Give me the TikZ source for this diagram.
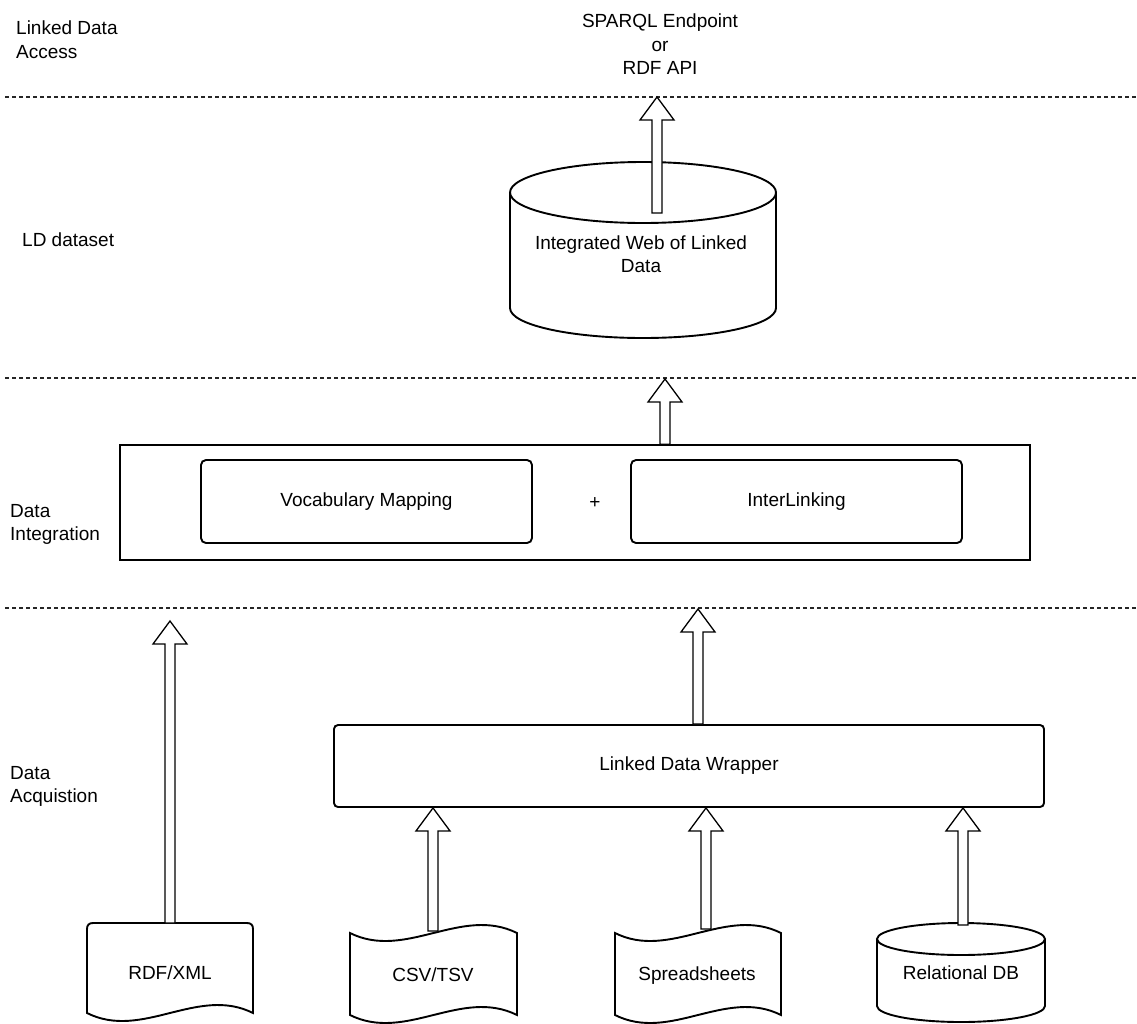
\documentclass[tikz,border=0pt]{standalone}
\usepackage{fontspec}
\setmainfont{Liberation Sans}
\usetikzlibrary{calc}

\tikzset{
  layerline/.style={line width=1.1pt, black!85, dash pattern=on 4pt off 3pt},
  layerlabel/.style={anchor=north west, inner sep=0pt, align=left},
  shapeline/.style={line width=1.9pt, draw=black, fill=white},
  softbox/.style={draw=black, line width=1.9pt, rounded corners=5pt, fill=white},
  groupbox/.style={draw=black, line width=1.3pt, fill=white},
  blockarrow/.style={draw=black, line width=1.3pt, fill=white, line join=miter},
  plain/.style={inner sep=0pt, align=center}
}

% hollow upward block arrow from the first point to the tip at the second
\newcommand\liftarrow[2]{%
  \draw[blockarrow] let \p1=(#1), \p2=(#2) in
    (\x1-5pt,\y1) -- (\x1-5pt,\y2-23pt) -- (\x1-17pt,\y2-23pt) -- (\x1,\y2)
    -- (\x1+17pt,\y2-23pt) -- (\x1+5pt,\y2-23pt) -- (\x1+5pt,\y1) -- cycle;}

\begin{document}
\begin{tikzpicture}[x=1pt, y=-1pt, font=\fontsize{19}{23.5}\selectfont]
\useasboundingbox (0,0) rectangle (1137,1023);
\clip (0,0) rectangle (1137,1023);
\fill[white] (0,0) rectangle (1137,1023);

% layer separators
\coordinate (sepA) at (5,97);
\coordinate (sepB) at (5,378);
\coordinate (sepC) at (5,608);
\draw[layerline] (sepA) -- (1137,97);
\draw[layerline] (sepB) -- (1137,378);
\draw[layerline] (sepC) -- (1137,608);

% layer names
\node[layerlabel] (lAccess) at (16,21) {Linked Data\\Access};
\node[layerlabel] (lDataset) at (22,233) {LD dataset};
\node[layerlabel] (lIntegr) at (10,504) {Data\\Integration};
\node[layerlabel] (lAcq) at (10,766) {Data\\Acquistion};

% access point
\node[plain, anchor=north] (access) at (660,14) {SPARQL Endpoint\\or\\RDF API};

% integrated dataset (cylinder)
\draw[shapeline] (510,192.5) -- (510,308) .. controls (510,324.6) and (569.5,338) .. (643,338)
  .. controls (716.5,338) and (776,324.6) .. (776,308) -- (776,192.5);
\draw[shapeline] (643,192.5) ellipse [x radius=133, y radius=30.5];
\node[plain] (ldset) at (641,254) {Integrated Web of Linked\\Data};
\coordinate (ldsetOut) at (657,213);
\liftarrow{ldsetOut}{ldsetOut |- sepA}

% integration layer
\node[groupbox, minimum width=910, minimum height=115] (integ) at (575,502.5) {};
\node[softbox, minimum width=331, minimum height=83] (vocab) at (366.5,501.5) {Vocabulary Mapping};
\node[softbox, minimum width=331, minimum height=83] (inter) at (796.5,501.5) {InterLinking};
\node[plain] (plus) at (595,503) {+};
\coordinate (integTip) at (665,379);
\liftarrow{integTip |- integ.north}{integTip}

% wrapper
\node[softbox, rounded corners=4pt, minimum width=710, minimum height=82] (wrap) at (689,766) {Linked Data Wrapper};
\coordinate (wrapTip) at (698,609);
\liftarrow{wrapTip |- wrap.north}{wrapTip}

% RDF/XML document
\draw[shapeline] (87,1013) -- (87,929) .. controls (87,925) and (89,923) .. (93,923) -- (247,923)
  .. controls (251,923) and (253,925) .. (253,929) -- (253,1013)
  .. controls (197.7,985.3) and (142.3,1040.7) .. (87,1013) -- cycle;
\node[plain] (rdf) at (170,973) {RDF/XML};
\coordinate (rdfOut) at (170,923);
\coordinate (rdfTip) at (170,621);
\liftarrow{rdfOut}{rdfTip}

% CSV/TSV tape
\draw[shapeline] (350,933) .. controls (405.7,960.7) and (461.3,905.3) .. (517,933) -- (517,1015)
  .. controls (461.3,987.3) and (405.7,1042.7) .. (350,1015) -- cycle;
\node[plain] (csv) at (433,975) {CSV/TSV};
\coordinate (csvOut) at (433,931);
\liftarrow{csvOut}{csvOut |- wrap.south}

% spreadsheets tape
\draw[shapeline] (615,933) .. controls (670.3,960.7) and (725.7,905.3) .. (781,933) -- (781,1015)
  .. controls (725.7,987.3) and (670.3,1042.7) .. (615,1015) -- cycle;
\node[plain] (sheets) at (697,976) {Spreadsheets};
\coordinate (sheetsOut) at (706,929);
\liftarrow{sheetsOut}{sheetsOut |- wrap.south}

% relational database (cylinder)
\draw[shapeline] (877,939) -- (877,1006) .. controls (877,1014.8) and (914.6,1022) .. (961,1022)
  .. controls (1007.4,1022) and (1045,1014.8) .. (1045,1006) -- (1045,939);
\draw[shapeline] (961,939) ellipse [x radius=84, y radius=16];
\node[plain] (reldb) at (961,973) {Relational DB};
\coordinate (reldbOut) at (963,925);
\liftarrow{reldbOut}{reldbOut |- wrap.south}
\end{tikzpicture}
\end{document}
